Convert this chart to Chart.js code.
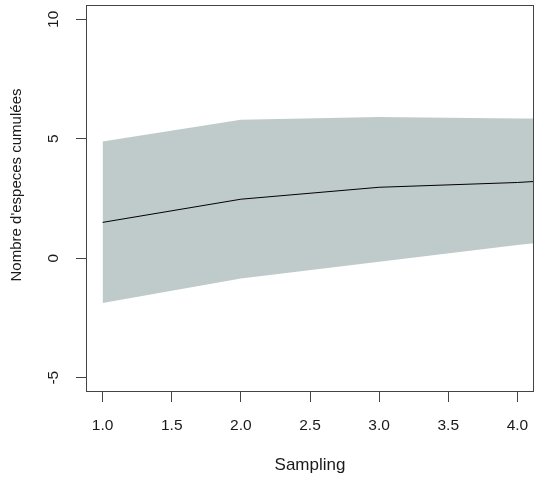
<!DOCTYPE html>
<html>
<head>
<meta charset="utf-8">
<script src="https://cdn.jsdelivr.net/npm/chart.js@4"></script>
<style>
	html, body { margin: 0; padding: 0; background: #fff; }
	canvas { display: block; }
</style>
</head>
<body>
<canvas id="chart" width="544" height="486"></canvas>
<script>
const sampling = [1, 2, 3, 4, 5];
const meanRichness = [1.5, 2.47, 2.97, 3.17, 3.52];
const upperCI = [4.89, 5.8, 5.91, 5.85, 5.8];
const lowerCI = [-1.87, -0.85, -0.15, 0.55, 1.15];
const xTicks = [1, 1.5, 2, 2.5, 3, 3.5, 4];
const yTicks = [-5, 0, 5, 10];

const font = "'Liberation Sans', Arial, sans-serif";
const textColor = '#1a1a1a';
const axisColor = '#444';

const toPoints = (ys) => sampling.map((x, i) => ({ x, y: ys[i] }));

// box round the plot, and rotated y tick labels like R's default axis
const rAxes = {
	id: 'rAxes',
	afterDraw(chart) {
		const { ctx, chartArea: a } = chart;
		const y = chart.scales.y;
		ctx.save();
		ctx.strokeStyle = axisColor;
		ctx.lineWidth = 1;
		ctx.strokeRect(a.left + 0.5, a.top + 0.5, a.right - a.left - 1, a.bottom - a.top - 1);

		ctx.fillStyle = textColor;
		ctx.font = '15.5px ' + font;
		ctx.textAlign = 'center';
		ctx.textBaseline = 'middle';
		yTicks.forEach(v => {
			ctx.save();
			ctx.translate(54, y.getPixelForValue(v));
			ctx.rotate(-Math.PI / 2);
			ctx.fillText(String(v), 0, 0);
			ctx.restore();
		});

		ctx.font = '15px ' + font;
		ctx.save();
		ctx.translate(17, 185);
		ctx.rotate(-Math.PI / 2);
		ctx.fillText("Nombre d'especes cumulées", 0, 0);
		ctx.restore();
		ctx.restore();
	}
};

const config = {
	type: 'line',
	data: {
		datasets: [
			{
				label: 'mean',
				data: toPoints(meanRichness),
				borderColor: '#000',
				borderWidth: 1,
				pointRadius: 0,
				fill: false,
			},
			{
				label: 'upper',
				data: toPoints(upperCI),
				borderWidth: 0,
				borderColor: 'rgba(0,0,0,0)',
				backgroundColor: 'rgb(190, 203, 202)',
				pointRadius: 0,
				fill: '+1',
			},
			{
				label: 'lower',
				data: toPoints(lowerCI),
				borderWidth: 0,
				borderColor: 'rgba(0,0,0,0)',
				pointRadius: 0,
				fill: false,
			},
		],
	},
	options: {
		responsive: false,
		animation: false,
		layout: { padding: { top: 5, right: 10, left: 0, bottom: 0 } },
		plugins: {
			legend: { display: false },
			tooltip: { enabled: false },
		},
		scales: {
			x: {
				type: 'linear',
				min: 0.88,
				max: 4.12,
				afterBuildTicks: (scale) => { scale.ticks = xTicks.map(v => ({ value: v })); },
				afterFit: (scale) => { scale.height = 94; },
				border: { display: false },
				grid: {
					drawOnChartArea: false,
					drawTicks: true,
					tickLength: 10,
					tickColor: axisColor,
				},
				ticks: {
					color: textColor,
					font: { size: 15.5, family: font },
					padding: 14,
					maxRotation: 0,
					autoSkip: false,
					callback: (v) => Number(v).toFixed(1),
				},
				title: {
					display: true,
					text: 'Sampling',
					color: textColor,
					font: { size: 17, family: font },
					padding: { top: 0, bottom: 10 },
				},
			},
			y: {
				type: 'linear',
				min: -5.6,
				max: 10.6,
				afterBuildTicks: (scale) => { scale.ticks = yTicks.map(v => ({ value: v })); },
				afterFit: (scale) => { scale.width = 86; },
				border: { display: false },
				grid: {
					drawOnChartArea: false,
					drawTicks: true,
					tickLength: 10,
					tickColor: axisColor,
				},
				ticks: { display: false },
			},
		},
	},
	plugins: [rAxes],
};

const chart = new Chart(document.getElementById('chart'), config);
</script>
</body>
</html>
